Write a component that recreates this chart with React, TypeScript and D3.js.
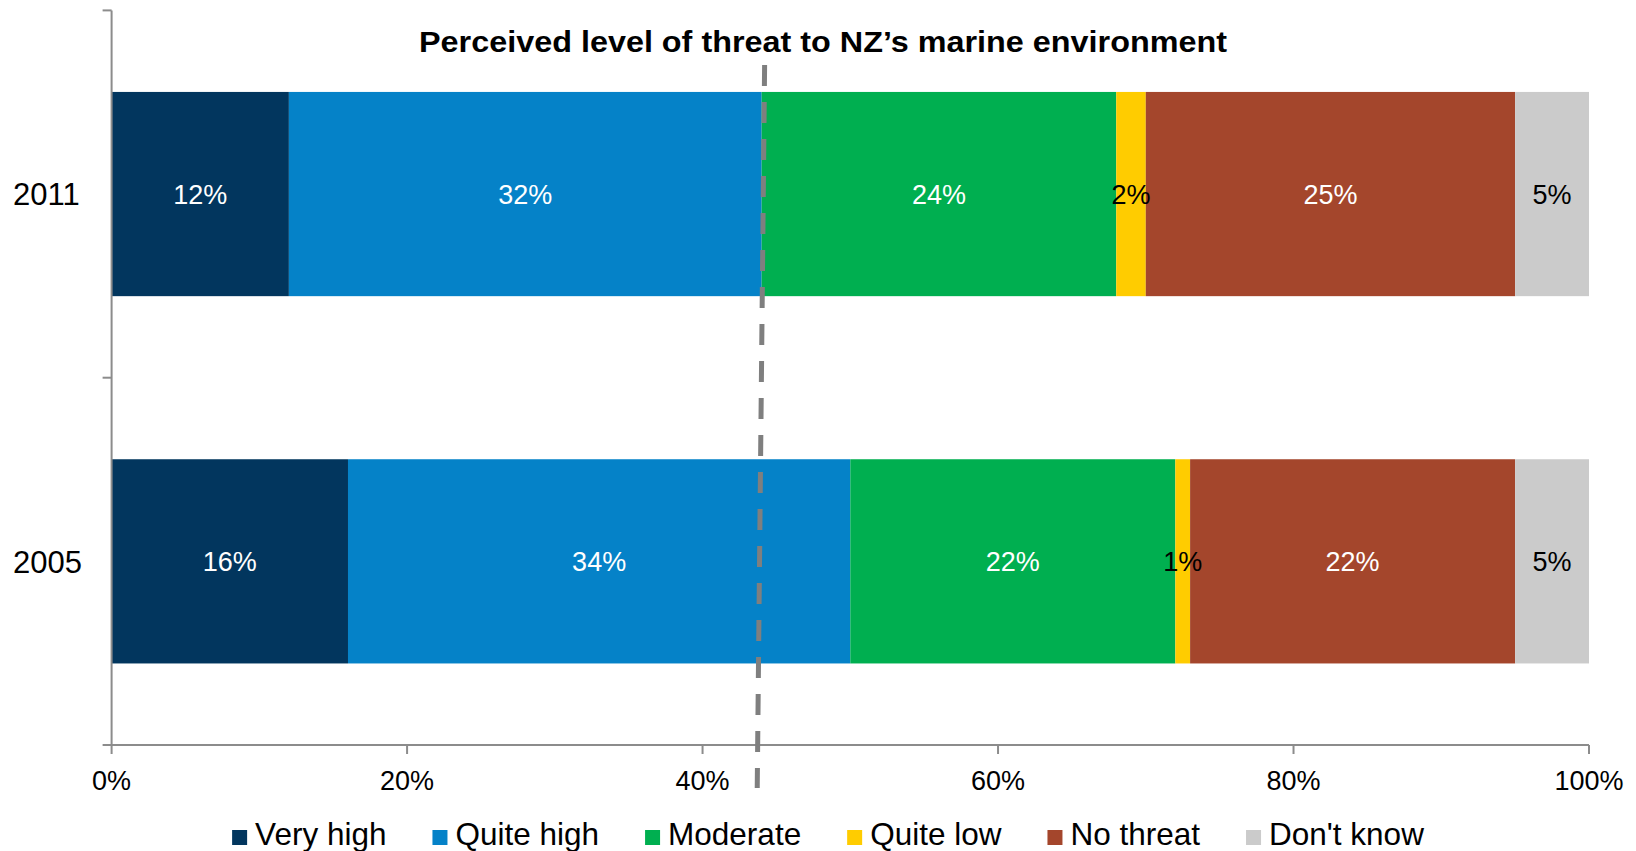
import React, { useEffect, useRef } from "react";
import * as d3 from "d3";

const years = ["2011", "2005"];
const seriesNames = ["Very high", "Quite high", "Moderate", "Quite low", "No threat", "Don't know"];
const values2011 = [12, 32, 24, 2, 25, 5];
const values2005 = [16, 34, 22, 1, 22, 5];
const seriesColors = ["#02365E", "#0582C8", "#00AF50", "#FFCC00", "#A4462C", "#CBCBCB"];
const labelColors = ["#ffffff", "#ffffff", "#ffffff", "#000000", "#ffffff", "#000000"];
const xTicks = [0, 20, 40, 60, 80, 100];
const title = "Perceived level of threat to NZ\u2019s marine environment";
const thresholdTop = 44.2;
const thresholdBottom = 43.7;

const W = 1636;
const H = 851;
const FONT = "'Liberation Sans', Arial, sans-serif";

export default function App() {
  const ref = useRef<SVGSVGElement | null>(null);

  useEffect(() => {
    const svg = d3.select(ref.current);
    svg.selectAll("*").remove();

    const left = 111.6, right = 1589, top = 10.4, bottom = 745;
    const x = d3.scaleLinear().domain([0, 100]).range([left, right]);
    const y = d3.scaleBand().domain(years).range([top, bottom]).paddingInner(0.444).paddingOuter(0.222);

    const data = [values2011, values2005];
    const axisColor = "#8c8c8c";

    // bars
    years.forEach((yr, i) => {
      const vals = data[i];
      let cum = 0;
      const g = svg.append("g");
      vals.forEach((v, j) => {
        const x0 = x(cum), x1 = x(cum + v);
        g.append("rect")
          .attr("x", x0).attr("y", y(yr)!)
          .attr("width", x1 - x0).attr("height", y.bandwidth())
          .attr("fill", seriesColors[j]);
        cum += v;
      });
      cum = 0;
      vals.forEach((v, j) => {
        g.append("text")
          .attr("x", x(cum + v / 2)).attr("y", y(yr)! + y.bandwidth() / 2)
          .attr("dy", "0.36em")
          .attr("text-anchor", "middle")
          .attr("font-family", FONT).attr("font-size", 27)
          .attr("fill", labelColors[j])
          .text(v + "%");
        cum += v;
      });
    });

    // y axis
    svg.append("line").attr("x1", left).attr("x2", left).attr("y1", top).attr("y2", bottom)
      .attr("stroke", axisColor).attr("stroke-width", 2);
    const bounds = [top, (top + bottom) / 2, bottom];
    bounds.forEach((b) => {
      svg.append("line").attr("x1", left - 9).attr("x2", left).attr("y1", b).attr("y2", b)
        .attr("stroke", axisColor).attr("stroke-width", 2);
    });
    years.forEach((yr) => {
      svg.append("text").attr("x", 13).attr("y", y(yr)! + y.bandwidth() / 2)
        .attr("dy", "0.36em").attr("font-family", FONT).attr("font-size", 31)
        .attr("fill", "#000").text(yr);
    });

    // x axis
    svg.append("line").attr("x1", left).attr("x2", right).attr("y1", bottom).attr("y2", bottom)
      .attr("stroke", axisColor).attr("stroke-width", 2);
    xTicks.forEach((t) => {
      svg.append("line").attr("x1", x(t)).attr("x2", x(t)).attr("y1", bottom).attr("y2", bottom + 9)
        .attr("stroke", axisColor).attr("stroke-width", 2);
      svg.append("text").attr("x", x(t)).attr("y", 790)
        .attr("text-anchor", "middle").attr("font-family", FONT).attr("font-size", 27)
        .attr("fill", "#000").text(t + "%");
    });

    // threshold dashed line
    svg.append("line")
      .attr("x1", x(thresholdTop)).attr("y1", 65)
      .attr("x2", x(thresholdBottom)).attr("y2", 788)
      .attr("stroke", "#7f7f7f").attr("stroke-width", 5)
      .attr("stroke-dasharray", "21 16");

    // title
    svg.append("text").attr("x", 823).attr("y", 52)
      .attr("text-anchor", "middle").attr("font-family", FONT).attr("font-weight", "bold")
      .attr("font-size", 30).attr("fill", "#000")
      .attr("textLength", 808).attr("lengthAdjust", "spacingAndGlyphs")
      .text(title);

    // legend
    const lg = svg.append("g");
    const items = seriesNames.map((name, i) => {
      const g = lg.append("g");
      g.append("rect").attr("x", 0).attr("y", -15).attr("width", 15).attr("height", 15)
        .attr("fill", seriesColors[i]);
      const t = g.append("text").attr("x", 23).attr("y", 0)
        .attr("font-family", FONT).attr("font-size", 31.5).attr("fill", "#000").text(name);
      const w = 23 + (t.node() as SVGTextElement).getComputedTextLength();
      return { g, w };
    });
    const gap = 46;
    const total = d3.sum(items, (d) => d.w) + gap * (items.length - 1);
    let cx = 828 - total / 2;
    items.forEach((it) => {
      it.g.attr("transform", `translate(${cx},${845})`);
      cx += it.w + gap;
    });
  }, []);

  return (
    <svg ref={ref} width={W} height={H}
      style={{ position: "absolute", left: 0, top: 0, background: "#fff" }} />
  );
}
